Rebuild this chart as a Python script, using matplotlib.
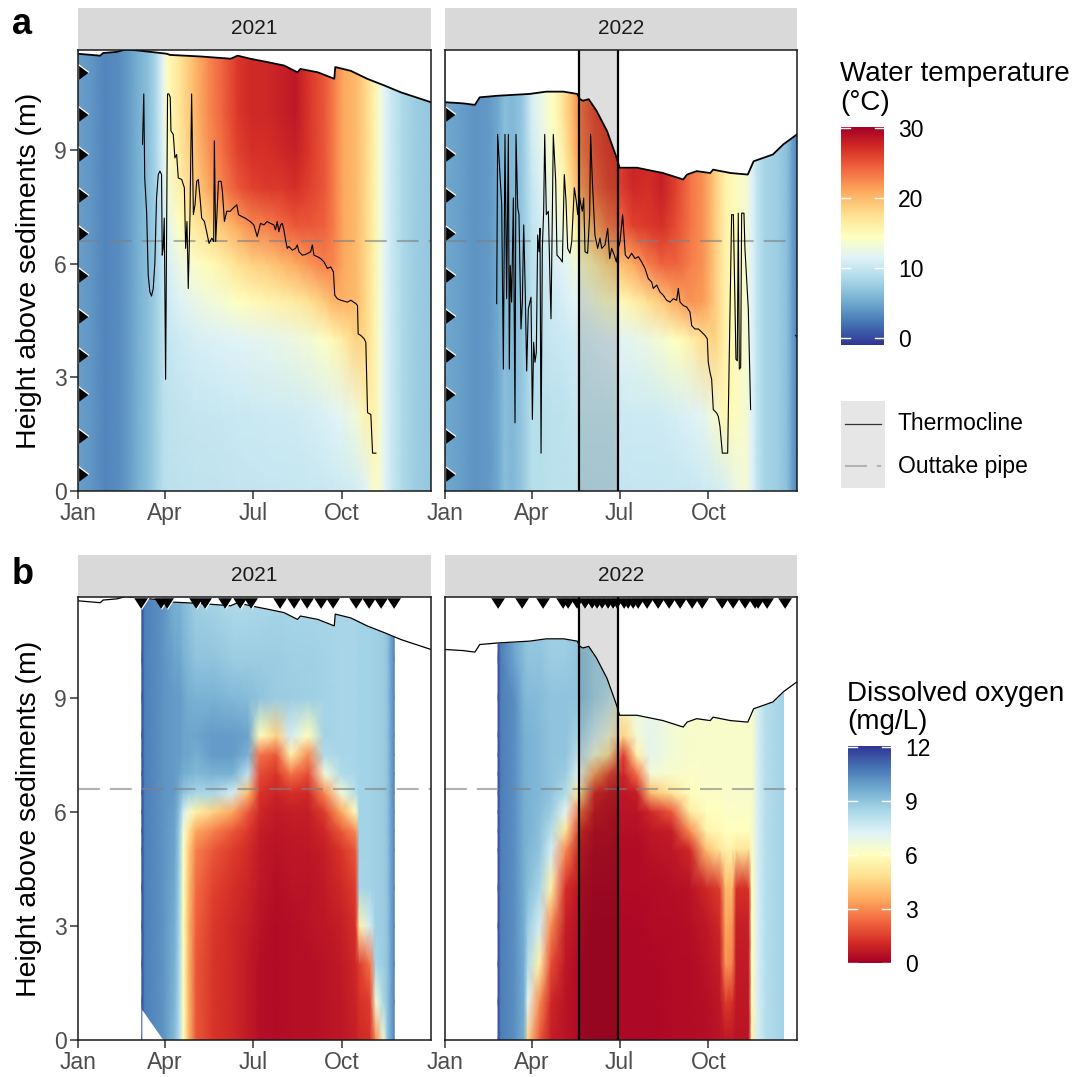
import matplotlib.pyplot as plt
import numpy as np

plt.rcParams['font.family'] = ['Liberation Sans', 'DejaVu Sans']

# ---------------- data ----------------
month_ticks = [0, 90, 181, 273]
month_labels = ['Jan', 'Apr', 'Jul', 'Oct']
height_ticks = [0, 3, 6, 9]
y_top = 11.65

# water level (m above sediments), day of year
level_days_2021 = [0, 23, 26, 40, 49, 61, 75, 92, 95, 126, 158, 165, 178, 196, 213, 227, 230,
                   248, 265, 266, 282, 299, 317, 334, 365]
level_2021 = [11.55, 11.50, 11.57, 11.60, 11.66, 11.64, 11.60, 11.55, 11.52, 11.48, 11.42, 11.50,
              11.42, 11.33, 11.24, 11.06, 11.15, 11.06, 10.89, 11.20, 11.10, 10.89, 10.71, 10.53, 10.27]
level_days_2022 = [0, 19, 31, 36, 54, 88, 105, 123, 137, 140, 143, 149, 157, 168, 178, 181, 199,
                   226, 247, 251, 261, 275, 278, 296, 314, 320, 330, 340, 351, 365]
level_2022 = [10.27, 10.24, 10.20, 10.40, 10.44, 10.49, 10.55, 10.55, 10.49, 10.35, 10.31, 10.35,
              10.05, 9.51, 8.80, 8.54, 8.54, 8.40, 8.23, 8.36, 8.45, 8.40, 8.49, 8.40, 8.36, 8.71,
              8.80, 8.89, 9.16, 9.42]

# thermocline height (m)
thermo_days_2021 = [66.7, 68, 69, 71, 72.6, 74.3, 76, 77.8, 79.5, 81.2, 83, 84.7, 86.4, 87.1, 88.1,
                    89.2, 90.6, 92.6, 94, 95.4, 96.1, 98.5, 100.2, 102, 103.7, 107.2, 110, 111.3,
                    112.7, 114, 115.8, 117.5, 119.3, 121, 122.7, 124.4, 126.2, 127.9, 130.7, 133,
                    135.5, 138.3, 140.3, 141, 142.4, 145.2, 148, 149.3, 151.4, 153.8, 157.3, 160.7,
                    164.2, 166, 169.4, 172.8, 178, 181.8, 185.3, 188.7, 192.2, 195.6, 199, 202.5,
                    204.2, 206, 207.7, 209.5, 211.2, 212.9, 214.6, 216.4, 218.1, 221.6, 225, 226.7,
                    228.5, 232, 235.4, 240.6, 242.3, 244, 247.5, 250.9, 254.4, 257.9, 261.3, 264.1,
                    265.5, 268.2, 271.7, 278.6, 282.1, 287.3, 289, 289.7, 292.4, 295.9, 297.6,
                    299.4, 302.8, 304.6, 308]
thermo_2021 = [9.16, 10.49, 8.27, 7.34, 5.70, 5.26, 5.15, 5.35, 6.05, 7.74, 8.36, 8.45, 8.36, 6.23,
               6.41, 7.21, 2.95, 10.49, 10.49, 10.40, 9.51, 9.42, 8.80, 8.89, 8.27, 8.23, 8.01, 6.41,
               7.12, 5.35, 7.30, 10.49, 7.30, 7.56, 8.18, 8.23, 7.74, 7.21, 7.12, 6.85, 6.54, 6.68,
               6.59, 9.25, 6.59, 8.18, 8.18, 7.92, 7.12, 7.39, 7.39, 7.48, 7.56, 7.30, 7.25, 7.21,
               7.12, 7.03, 6.72, 7.07, 7.03, 7.12, 7.07, 7.03, 6.90, 7.12, 6.85, 7.03, 7.07, 6.90,
               6.63, 6.41, 6.46, 6.36, 6.41, 6.50, 6.32, 6.23, 6.25, 6.32, 6.50, 6.23, 6.19, 6.14,
               6.05, 5.88, 5.92, 5.79, 5.17, 5.08, 5.04, 4.99, 5.04, 4.95, 4.90, 4.15, 4.11, 4.02,
               3.93, 2.07, 2.02, 1.00, 1.00]
thermo_days_2022 = [53.6, 54.6, 58.8, 60.5, 62.2, 63.9, 65.7, 66.7, 67.7, 69.1, 70.9, 72.6, 73.6,
                    75.4, 76.7, 78.8, 80.2, 81.6, 83, 84.7, 86.4, 89.2, 90.6, 91.9, 93.3, 94.7,
                    96.1, 97.5, 98.5, 99.6, 100.9, 102.3, 103.4, 105.1, 107.2, 108.9, 109.9, 111.3,
                    112.3, 114.8, 116.1, 119.3, 121.7, 123.7, 125.5, 127.2, 129.6, 131.4, 134.1,
                    136.2, 137.6, 139, 141, 142.4, 143.8, 145.2, 147.9, 150, 151, 152.8, 155.5,
                    158.3, 160.7, 162.5, 165.9, 168.7, 170.8, 172.8, 175.6, 177.7, 179.7, 181.5,
                    184.2, 185.6, 187, 190.1, 193.5, 197, 200.5, 203.9, 207.4, 210.8, 214.3, 216,
                    219.5, 222.9, 226.4, 229.8, 233.3, 236.7, 240.2, 241.9, 243.7, 247.1, 250.6,
                    254, 255.8, 259.2, 262.7, 266.1, 269.6, 272, 273, 274.8, 276.5, 278.2, 281.7,
                    283.4, 285.1, 287.6, 293.1, 297.2, 299, 301.7, 303.1, 304.1, 305.2, 306.6,
                    307.6, 310, 311, 314.5, 316.9, np.nan, 363.6, 365]
thermo_2022 = [4.95, 9.42, 7.56, 3.22, 9.42, 5.08, 9.42, 3.22, 5.96, 4.99, 7.74, 1.80, 9.42, 7.48,
               7.30, 4.28, 4.99, 7.03, 5.52, 3.17, 4.81, 5.12, 1.89, 3.93, 3.40, 3.66, 6.76, 6.32,
               6.94, 1.00, 6.41, 7.39, 9.42, 7.30, 7.39, 5.52, 4.55, 7.30, 9.42, 8.18, 6.23, 6.14,
               6.05, 8.36, 7.65, 6.41, 6.28, 6.59, 8.01, 7.65, 7.30, 7.83, 7.56, 7.39, 7.74, 6.32,
               6.28, 7.30, 9.42, 8.18, 6.76, 6.41, 6.68, 6.41, 6.50, 6.94, 6.14, 6.41, 6.23, 6.05,
               6.41, 6.59, 7.30, 6.76, 6.23, 6.14, 6.28, 6.14, 6.19, 6.05, 5.88, 5.61, 5.52, 5.35,
               5.44, 5.26, 5.17, 5.04, 4.99, 5.08, 5.04, 5.35, 4.99, 4.90, 4.86, 4.73, 4.37, 4.28,
               4.28, 4.20, 4.11, 4.02, 3.40, 3.13, 2.95, 2.15, 2.06, 1.97, 1.71, 1.00, 1.00, 7.30,
               7.30, 3.48, 3.44, 7.34, 3.22, 3.26, 7.34, 7.34, 6.41, 4.81, 2.15, np.nan, 4.11, 4.05]

sensor_heights = [0.45, 1.46, 2.56, 3.59, 4.63, 5.70, 6.81, 7.83, 8.91, 9.95, 11.06]
pipe_height = 6.6
drawdown_2022 = [139, 179.5]

sample_days_2021 = [65, 86, 92, 122, 131, 152, 167, 179, 209, 223, 237, 251, 264, 287, 301, 313, 327]
sample_days_2022 = [55, 80, 102, 122, 128, 137, 145, 152, 158, 163, 169, 174, 178, 186, 190, 195,
                    200, 209, 221, 232, 244, 256, 266, 287, 299, 311, 321, 325, 334, 353]

# water temperature (degC): one profile per day, from bottom to surface
temp_heights = [0, 2, 4, 5, 6, 7, 8, 9, 10, 11.7]
temp_days_2021 = [0, 12, 28, 42, 52, 62, 72, 80, 88, 93, 105, 120, 135, 150, 165, 180, 195, 210,
                  225, 240, 255, 265, 275, 288, 298, 306, 312, 318, 325, 335, 348, 365]
temp_2021 = [
    [4.5] * 10, [4.0] * 10, [3.0] * 10, [3.4] * 10, [4.3] * 10, [5.5] * 10, [6.5] * 10,
    [7.5, 7.5, 7.5, 7.5, 7.5, 7.6, 7.8, 8, 8.2, 8.2],
    [9.0, 9.0, 9.2, 9.5, 9.8, 10.3, 10.8, 11.3, 11.8, 11.8],
    [9.3, 9.4, 9.9, 10.5, 11, 12, 13.5, 14.5, 15, 15],
    [9.4, 9.6, 10.3, 11.3, 12.5, 14.5, 16, 16.5, 17, 17],
    [9.5, 9.8, 10.8, 12.3, 14, 16.5, 18.5, 19.5, 20, 20],
    [9.5, 9.9, 11.1, 13, 15, 18, 21, 22, 22.5, 22.5],
    [9.6, 10, 11.3, 13.5, 16, 19.5, 23, 24, 24.5, 24.5],
    [9.7, 10.1, 11.5, 14.5, 17.5, 21, 25, 26, 26.5, 26.5],
    [9.7, 10.2, 11.8, 15, 18.5, 22.5, 26, 27, 27.5, 27.5],
    [9.8, 10.3, 11.9, 15.5, 19, 23, 26.5, 27, 27.5, 27.5],
    [9.8, 10.4, 12.3, 16, 20, 24, 26.5, 27.5, 28, 28],
    [9.9, 10.5, 12.8, 16.5, 21, 25, 27, 28, 28.5, 28.5],
    [10, 10.7, 13.3, 17.5, 22, 25, 26, 26.5, 26.5, 26.5],
    [10.1, 11.1, 14.3, 19, 23, 24.5, 25, 25, 25, 25],
    [10.2, 11.5, 15.3, 20.5, 22.5, 23, 23, 23, 23, 23],
    [10.3, 12.1, 16.5, 20.5, 21, 21, 21, 21, 21, 21],
    [10.7, 13.2, 18.5, 20, 20, 20, 20, 20, 20, 20],
    [11.5, 15.8, 18, 18, 18, 18, 18, 18, 18, 18],
    [14, 16, 16, 16, 16, 16, 16, 16, 16, 16],
    [13.5] * 10, [11.5] * 10, [10] * 10, [8.5] * 10, [7.5] * 10, [7] * 10,
]
temp_days_2022 = [0, 15, 30, 45, 55, 62, 70, 80, 90, 100, 112, 122, 132, 142, 155, 168, 180, 195,
                  210, 225, 240, 255, 268, 280, 290, 300, 312, 318, 324, 332, 345, 355, 360, 365]
temp_2022 = [
    [5] * 10, [4.5] * 10, [3.8] * 10, [4] * 10, [5] * 10, [6.5] * 10, [6] * 10, [7] * 10,
    [9.0, 9.0, 9.2, 9.2, 9.2, 9.5, 9.8, 10.3, 10.8, 10.8],
    [9.0, 9.0, 9.6, 9.9, 10.2, 10.7, 11.3, 12, 12.5, 12.5],
    [9.3, 9.3, 10, 10.4, 10.9, 12, 13, 14, 14.5, 14.5],
    [9.3, 9.4, 10.1, 10.8, 11.5, 13, 15, 16, 17, 17],
    [9.3, 9.7, 10.5, 11.4, 12.5, 15, 18, 19.5, 20, 20],
    [9.4, 9.8, 10.6, 11.9, 14, 18, 21.5, 23, 23.5, 23.5],
    [9.5, 9.9, 11, 13, 16, 21, 24, 25, 25.5, 25.5],
    [9.5, 9.9, 11.3, 14, 18, 23, 25.5, 26, 26, 26],
    [9.7, 10.2, 11.5, 15, 19.5, 24, 26, 26.5, 27, 27],
    [9.8, 10.3, 12, 16, 21, 26, 27.5, 28, 28, 28],
    [9.8, 10.4, 12.5, 17.5, 23, 26.5, 27, 27.5, 27.5, 27.5],
    [9.9, 10.5, 13.5, 19, 24.5, 27, 28, 28, 28, 28],
    [9.9, 10.8, 14.5, 21, 24.5, 25.5, 26, 26, 26, 26],
    [10, 11.3, 16, 22, 23, 23.5, 23.5, 23.5, 23.5, 23.5],
    [10.3, 11.8, 17.8, 21.5, 22, 22, 22, 22, 22, 22],
    [10.5, 13.5, 18.5, 19, 19, 19, 19, 19, 19, 19],
    [11, 15.3, 16, 16, 16, 16, 16, 16, 16, 16],
    [12.3, 15, 15, 15, 15, 15, 15, 15, 15, 15],
    [13.5] * 10, [11.5] * 10, [9.5] * 10, [8] * 10, [7.5] * 10, [6.5] * 10, [4.5] * 10, [3] * 10,
]

# dissolved oxygen (mg/L): one profile per day, from bottom to surface
do_heights = [0, 1, 2, 3, 4, 5, 5.5, 6, 6.5, 7, 7.5, 8, 9, 10, 11.7]
do_days_2021 = [66, 69, 88, 100, 105, 109, 114, 122, 140, 160, 176, 188, 205, 220, 238, 255, 272,
                287, 291, 302, 308, 316, 320, 327]
do_2021 = [
    [11.6] * 15, [10.6] * 15, [10.2] * 15,
    [9.2, 9.4, 9.5, 9.6, 9.7, 9.8, 9.8, 9.9, 10, 10, 10, 10, 10, 9.8, 9.5],
    [8.2, 8.3, 8.4, 8.5, 8.6, 8.7, 8.8, 9, 9.5, 9.8, 10, 10, 10, 9.8, 9.5],
    [6.0, 6.0, 6.0, 6.0, 6.0, 6.2, 6.5, 7.5, 9, 9.6, 9.8, 9.8, 9.8, 9.5, 9.2],
    [4.0, 4.0, 4.0, 4.0, 4.2, 4.5, 5, 6.5, 8.8, 9.5, 9.8, 9.8, 9.6, 9.3, 9],
    [2.0, 2.0, 2.0, 2.2, 2.4, 2.8, 3.5, 5.5, 8.5, 9.3, 9.6, 9.8, 9.5, 9, 8.7],
    [1.3, 1.3, 1.3, 1.4, 1.6, 2, 2.8, 4.5, 8.5, 9.5, 10, 10, 9.5, 9, 8.5],
    [1.0, 1.0, 1.0, 1.0, 1.2, 1.5, 2, 3.5, 7.5, 9.5, 10, 10, 9.3, 8.8, 8.3],
    [0.7, 0.7, 0.7, 0.8, 0.9, 1.1, 1.4, 2, 4, 8, 9.5, 9.8, 9.2, 8.8, 8.3],
    [0.4, 0.4, 0.4, 0.5, 0.6, 0.7, 0.8, 1, 1.3, 1.8, 2.5, 6.0, 9, 8.8, 8.4],
    [0.3, 0.3, 0.3, 0.3, 0.4, 0.5, 0.6, 0.7, 0.9, 1.3, 2.0, 4.5, 8.8, 8.8, 8.5],
    [0.4, 0.4, 0.4, 0.4, 0.5, 0.6, 0.7, 0.8, 1.2, 2.5, 5.5, 7.5, 8.8, 8.7, 8.5],
    [0.4, 0.4, 0.4, 0.5, 0.5, 0.6, 0.7, 0.8, 1, 1.8, 3.0, 6, 8.7, 8.7, 8.5],
    [0.5, 0.5, 0.5, 0.6, 0.7, 0.8, 1, 1.5, 3, 6.5, 8.3, 8.6, 8.6, 8.6, 8.5],
    [0.6, 0.6, 0.7, 0.8, 1, 1.3, 2, 3.5, 6.5, 8.3, 8.5, 8.5, 8.5, 8.5, 8.5],
    [0.8, 0.9, 1, 1.2, 1.5, 2, 3, 6, 8.2, 8.5, 8.5, 8.5, 8.5, 8.5, 8.5],
    [1.0, 1.2, 1.5, 5.5, 8.5, 8.6, 8.6, 8.6, 8.6, 8.6, 8.6, 8.6, 8.6, 8.6, 8.6],
    [1.2, 1.5, 2.5, 7.5, 8.6, 8.6, 8.6, 8.6, 8.6, 8.6, 8.6, 8.6, 8.6, 8.6, 8.6],
    [3.0, 6.5, 8.5, 8.7, 8.7, 8.7, 8.7, 8.7, 8.7, 8.7, 8.7, 8.7, 8.7, 8.7, 8.7],
    [6.5, 8.5, 8.8, 8.8, 8.8, 8.8, 8.8, 8.8, 8.8, 8.8, 8.8, 8.8, 8.8, 8.8, 8.8],
    [9.0] * 15, [10.5] * 15,
]
do_floor_days_2021 = [66, 88]
do_floor_2021 = [0.8, 0.0]

do_days_2022 = [55, 58, 72, 82, 86, 98, 110, 125, 140, 155, 170, 185, 199, 213, 235, 254, 271, 285,
                291, 298, 302, 315, 318, 325, 333, 351]
do_2022 = [
    [11.6] * 15, [10.6] * 15,
    [10.3, 10.3, 10.3, 10.3, 10.3, 10.3, 10.3, 10.3, 10.3, 10.3, 10.3, 10.3, 10.3, 9.8, 9.5],
    [9.6, 9.6, 9.6, 9.6, 9.6, 9.6, 9.6, 9.6, 9.6, 9.6, 9.6, 9.6, 9.4, 9.2, 9.0],
    [4.5, 7.0, 8.3, 8.8, 9.2, 9.4, 9.5, 9.5, 9.5, 9.5, 9.5, 9.5, 9.3, 9.0, 8.8],
    [2.0, 3.0, 5.5, 7.5, 8.5, 9.0, 9.1, 9.2, 9.3, 9.3, 9.3, 9.3, 9.2, 9.0, 8.8],
    [0.8, 1.0, 1.8, 3.0, 5.5, 7.5, 8.2, 8.8, 9.0, 9.0, 9.0, 9.0, 9.0, 8.8, 8.6],
    [0.5, 0.5, 0.6, 0.8, 1.2, 3.0, 5.0, 7.0, 8.3, 8.8, 9.0, 9.0, 9.0, 8.8, 8.6],
    [0.3, 0.3, 0.3, 0.4, 0.5, 0.8, 1.2, 2.5, 5.0, 7.0, 8.0, 8.5, 9.0, 9.0, 8.8],
    [0.2, 0.2, 0.2, 0.2, 0.3, 0.4, 0.5, 0.8, 1.2, 3.5, 6.5, 7.5, 8.5, 8.5, 8.5],
    [0.2, 0.2, 0.2, 0.2, 0.3, 0.4, 0.5, 0.6, 0.8, 1.8, 5.0, 6.5, 8.0, 8.5, 8.5],
    [0.2, 0.2, 0.2, 0.2, 0.3, 0.3, 0.4, 0.5, 0.6, 0.9, 1.5, 4.5, 6.3, 6.5, 6.5],
    [0.2, 0.2, 0.2, 0.2, 0.3, 0.3, 0.4, 0.5, 0.8, 2.5, 5.5, 6.5, 6.8, 6.8, 6.8],
    [0.2, 0.2, 0.2, 0.3, 0.3, 0.5, 0.6, 1.0, 4.0, 6.5, 7.0, 7.0, 6.8, 6.5, 6.5],
    [0.3, 0.3, 0.3, 0.3, 0.4, 0.6, 0.8, 2.0, 5.0, 6.3, 6.5, 6.5, 6.5, 6.5, 6.5],
    [0.3, 0.3, 0.3, 0.4, 0.5, 1.0, 3.0, 5.3, 6.0, 6.2, 6.3, 6.3, 6.3, 6.3, 6.3],
    [0.4, 0.4, 0.5, 0.6, 1.0, 4.0, 5.6, 6.0, 6.2, 6.3, 6.3, 6.3, 6.3, 6.3, 6.3],
    [0.5, 0.6, 0.8, 1.0, 1.5, 5.0, 5.8, 6.0, 6.2, 6.3, 6.3, 6.3, 6.3, 6.3, 6.3],
    [0.6, 1.5, 3.2, 3.5, 4.0, 5.5, 6.0, 6.2, 6.3, 6.3, 6.3, 6.3, 6.3, 6.3, 6.3],
    [0.6, 1.2, 2.8, 3.2, 3.8, 5.5, 6.0, 6.2, 6.3, 6.3, 6.3, 6.3, 6.3, 6.3, 6.3],
    [0.5, 0.6, 0.7, 0.8, 1.2, 5.0, 6.0, 6.2, 6.3, 6.3, 6.3, 6.3, 6.3, 6.3, 6.3],
    [0.5, 0.6, 0.7, 0.8, 1.2, 5.0, 6.0, 6.2, 6.3, 6.3, 6.3, 6.3, 6.3, 6.3, 6.3],
    [5.5, 5.8, 6.0, 6.0, 6.0, 6.2, 6.3, 6.3, 6.3, 6.3, 6.3, 6.3, 6.3, 6.3, 6.3],
    [7.5] * 15, [8.2] * 15, [8.6] * 15,
]

temp_limits = (-1.04, 30.14)
do_limits = (0, 12.05)

# ---------------- figure ----------------
W, H = 1088, 1077
fig = plt.figure(figsize=(W / 100, H / 100), dpi=100)


def px_axes(x0, y0, x1, y1):
    return fig.add_axes([x0 / W, 1 - y1 / H, (x1 - x0) / W, (y1 - y0) / H])


right_tri = [(0, -0.75), (0, 0.75), (1, 0)]
down_tri = [(-1, 0.77), (1, 0.77), (0, -0.77)]


def base_panel(box, strip, label, left):
    sx = px_axes(*strip)
    sx.set_facecolor('#d9d9d9')
    sx.set_xticks([])
    sx.set_yticks([])
    for s in sx.spines.values():
        s.set_visible(False)
    sx.text(0.5, 0.5, label, ha='center', va='center', fontsize=15, color='#1a1a1a')

    ax = px_axes(*box)
    ax.set_xlim(0, 365)
    ax.set_ylim(0, y_top)
    ax.set_xticks(month_ticks)
    ax.set_xticklabels(month_labels)
    ax.set_yticks(height_ticks)
    ax.tick_params(length=6, width=1.1, color='#333333', labelsize=16.5, labelcolor='#4d4d4d', pad=2)
    if not left:
        ax.tick_params(left=False, labelleft=False)
    for s in ax.spines.values():
        s.set_linewidth(1.1)
        s.set_color('#1a1a1a')
        s.set_zorder(10)
    return ax


def finish_panel(ax, lvl_days, lvl, lw, drawdown):
    ax.fill_between(lvl_days, lvl, y_top + 1, color='white', zorder=2, lw=0)
    ax.plot(lvl_days, lvl, color='black', lw=lw, zorder=4)
    ax.axhline(pipe_height, color='grey', alpha=0.6, lw=1.5, dashes=(10.5, 4.8), zorder=3)
    if drawdown:
        ax.axvspan(*drawdown, color='black', alpha=0.13, lw=0, zorder=3.5)
        for d in drawdown:
            ax.axvline(d, color='black', lw=1.6, zorder=7)


def heat(ax, days, heights, values, cmap, lims):
    X, Y = np.meshgrid(days, heights)
    ax.pcolormesh(X, Y, np.array(values).T, shading='gouraud', cmap=cmap,
                  vmin=lims[0], vmax=lims[1], zorder=1, rasterized=True)


# panel a: water temperature
temp_sets = [(temp_days_2021, temp_2021, level_days_2021, level_2021, thermo_days_2021, thermo_2021,
              sensor_heights, None),
             (temp_days_2022, temp_2022, level_days_2022, level_2022, thermo_days_2022, thermo_2022,
              sensor_heights[:-1], drawdown_2022)]
boxes_a = [(78, 50, 431, 491), (445, 50, 797, 491)]
strips_a = [(78, 8, 431, 50), (445, 8, 797, 50)]
for i, (td, tv, ld, lv, thd, thv, sens, dd) in enumerate(temp_sets):
    ax = base_panel(boxes_a[i], strips_a[i], ['2021', '2022'][i], i == 0)
    heat(ax, td, temp_heights, tv, 'RdYlBu_r', temp_limits)
    finish_panel(ax, ld, lv, 1.3, dd)
    ax.plot(thd, thv, color='black', lw=0.8, zorder=4)
    ax.plot(np.zeros(len(sens)), sens, ls='none', marker=right_tri, ms=15, mfc='black',
            mec='white', mew=0.9, zorder=6, clip_on=False)

# panel b: dissolved oxygen
do_sets = [(do_days_2021, do_2021, level_days_2021, level_2021, sample_days_2021, None),
           (do_days_2022, do_2022, level_days_2022, level_2022, sample_days_2022, drawdown_2022)]
boxes_b = [(78, 597, 431, 1040), (445, 597, 797, 1040)]
strips_b = [(78, 555, 431, 597), (445, 555, 797, 597)]
for i, (dd_, dv, ld, lv, sd, dd) in enumerate(do_sets):
    ax = base_panel(boxes_b[i], strips_b[i], ['2021', '2022'][i], i == 0)
    heat(ax, dd_, do_heights, dv, 'RdYlBu', do_limits)
    if i == 0:
        ax.fill_between(do_floor_days_2021, -0.1, do_floor_2021, color='white', lw=0, zorder=1.5)
    finish_panel(ax, ld, lv, 0.9, dd)
    ax.plot(sd, np.full(len(sd), y_top - 0.15), ls='none', marker=down_tri, ms=11, mfc='black',
            mec='white', mew=0.9, zorder=6, clip_on=False)

# axis titles and tags
for yc in [(50 + 491) / 2, (597 + 1040) / 2]:
    fig.text(29 / W, 1 - yc / H, 'Height above sediments (m)', rotation=90, ha='center',
             va='center', fontsize=20.5)
fig.text(12 / W, 1 - 34 / H, 'a', fontsize=26, fontweight='bold', va='baseline')
fig.text(12 / W, 1 - 584 / H, 'b', fontsize=26, fontweight='bold', va='baseline')


# colourbars
def colourbar(box, cmap, lims, ticks, title, title_x, title_y):
    cax = px_axes(*box)
    grad = np.linspace(lims[0], lims[1], 256)[:, None]
    cax.imshow(grad, aspect='auto', cmap=cmap, origin='lower', extent=[0, 1, lims[0], lims[1]],
               vmin=lims[0], vmax=lims[1])
    cax.set_xlim(0, 1)
    cax.set_ylim(*lims)
    for s in cax.spines.values():
        s.set_visible(False)
    cax.set_xticks([])
    cax.yaxis.tick_right()
    cax.set_yticks(ticks)
    cax.tick_params(length=0, labelsize=16.5, pad=10)
    for t in ticks:
        cax.plot([0, 0.2], [t, t], color='white', lw=1)
        cax.plot([0.8, 1], [t, t], color='white', lw=1)
    fig.text(title_x / W, 1 - title_y[0] / H, title[0], fontsize=20, va='baseline')
    fig.text(title_x / W, 1 - title_y[1] / H, title[1], fontsize=20, va='baseline')


colourbar((841, 127, 884, 345), 'RdYlBu_r', temp_limits, [0, 10, 20, 30],
          ['Water temperature', '(°C)'], 840, (81, 110))
colourbar((848, 746, 891, 963), 'RdYlBu', do_limits, [0, 3, 6, 9, 12],
          ['Dissolved oxygen', '(mg/L)'], 847, (701, 729))

# line legend
kax = px_axes(841, 401, 885, 488)
kax.set_xlim(0, 1)
kax.set_ylim(0, 1)
kax.set_facecolor('#e6e6e6')
kax.set_xticks([])
kax.set_yticks([])
for s in kax.spines.values():
    s.set_visible(False)
kax.plot([0.1, 0.9], [0.74, 0.74], color='#333333', lw=0.9)
kax.plot([0.1, 0.9], [0.25, 0.25], color='#b3b3b3', lw=1.5, dashes=(10.5, 4.8))
fig.text(898 / W, 1 - 423 / H, 'Thermocline', fontsize=16.5, va='center')
fig.text(898 / W, 1 - 467 / H, 'Outtake pipe', fontsize=16.5, va='center')

fig.savefig('out.png', dpi=100)
